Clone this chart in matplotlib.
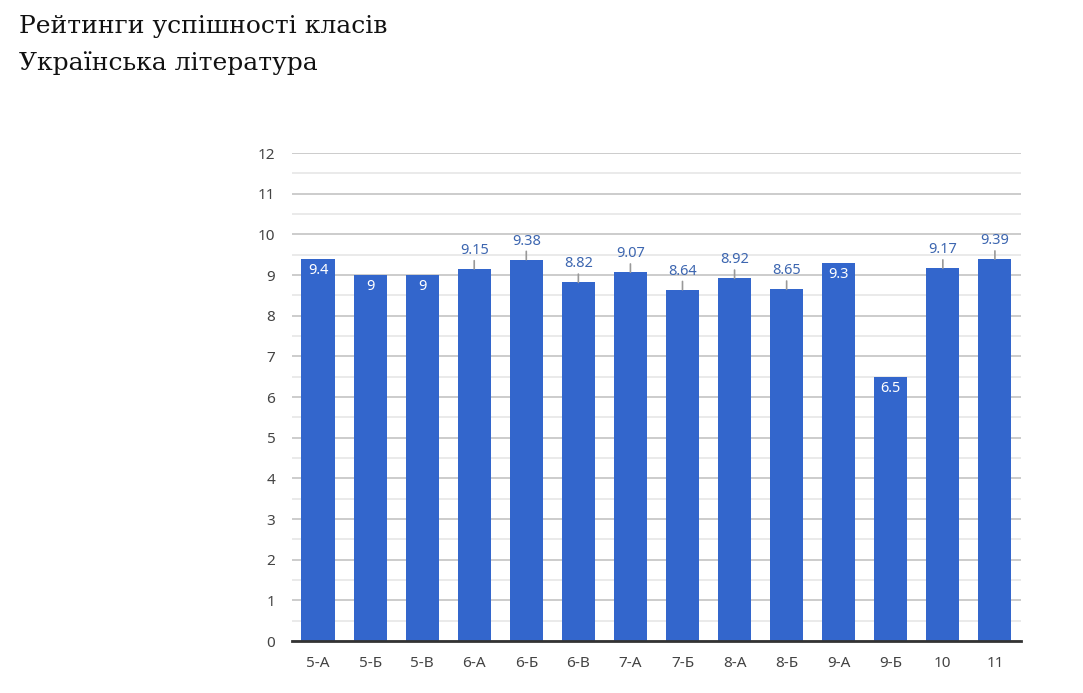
import numpy as np
import matplotlib.pyplot as plt
from matplotlib.ticker import MultipleLocator

# дані
classes = ['5-А', '5-Б', '5-В', '6-А', '6-Б', '6-В', '7-А', '7-Б', '8-А', '8-Б', '9-А', '9-Б', '10', '11']
scores = [9.4, 9, 9, 9.15, 9.38, 8.82, 9.07, 8.64, 8.92, 8.65, 9.3, 6.5, 9.17, 9.39]
labels = ['9.4', '9', '9', '9.15', '9.38', '8.82', '9.07', '8.64', '8.92', '8.65', '9.3', '6.5', '9.17', '9.39']
inside = [True, True, True, False, False, False, False, False, False, False, True, True, False, False]

plt.rcParams['font.family'] = ['Noto Sans', 'DejaVu Sans']

fig = plt.figure(figsize=(10.83, 6.93), dpi=100)
ax = fig.add_axes([0.2696, 0.075, 0.6731, 0.704])

x = np.arange(len(classes))
ax.bar(x, scores, width=0.635, color='#3366cc', zorder=3)

# підписи значень
for xi, v, lab, ins in zip(x, scores, labels, inside):
    if ins:
        ax.annotate(lab, (xi, v), xytext=(0, -3), textcoords='offset points',
                    ha='center', va='top', color='white', fontsize=10.5, zorder=5)
    else:
        ax.annotate(lab, (xi, v), xytext=(0, 8), textcoords='offset points',
                    ha='center', va='bottom', color='#3d66b0', fontsize=10.5, zorder=5,
                    arrowprops=dict(arrowstyle='-', color='#999999', lw=1.2,
                                    shrinkA=0, shrinkB=0))

ax.set_xlim(-0.5, len(classes) - 0.5)
ax.set_ylim(0, 12)
ax.yaxis.set_major_locator(MultipleLocator(1))
ax.yaxis.set_minor_locator(MultipleLocator(0.5))
ax.set_xticks(x)
ax.set_xticklabels(classes)
ax.grid(axis='y', which='major', color='#c8c8c8', lw=1.3, zorder=0)
ax.grid(axis='y', which='minor', color='#e8e8e8', lw=1.3, zorder=0)
ax.tick_params(axis='both', which='both', length=0, labelsize=11, colors='#444444')
ax.tick_params(axis='y', pad=12)
ax.tick_params(axis='x', pad=11)
for s in ['top', 'right', 'left']:
    ax.spines[s].set_visible(False)
ax.spines['bottom'].set_color('#333333')
ax.spines['bottom'].set_linewidth(2)
ax.spines['bottom'].set_zorder(4)

fig.text(0.018, 0.962, 'Рейтинги успішності класів', family='DejaVu Serif',
         fontsize=18, va='center', ha='left', color='#111111')
fig.text(0.018, 0.909, 'Українська література', family='DejaVu Serif',
         fontsize=18, va='center', ha='left', color='#111111')

fig.savefig('out.png', dpi=100)
